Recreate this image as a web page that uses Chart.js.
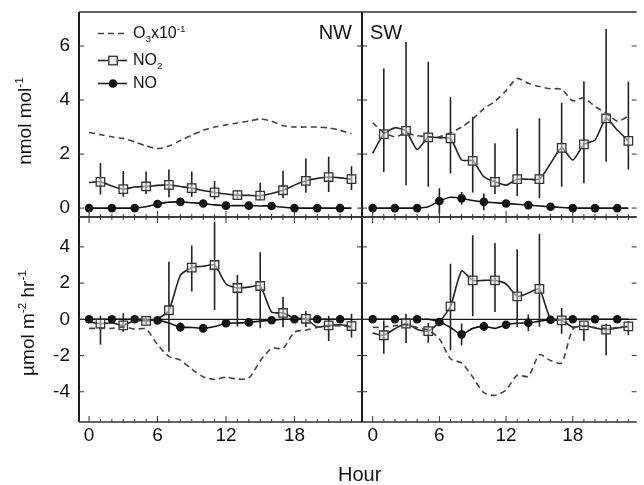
<!DOCTYPE html>
<html>
<head>
<meta charset="utf-8">
<script src="https://cdn.jsdelivr.net/npm/chart.js"></script>
<style>
body { margin: 0; background: #fff; }
#wrap { position: relative; width: 644px; height: 485px; overflow: hidden; font-family: "Liberation Sans", Arial, sans-serif; color: #111; }
#wrap canvas { position: absolute; left: 0; top: 0; }
.lbl { position: absolute; white-space: nowrap; line-height: 1; }
.rot { transform: translate(-50%, -50%) rotate(-90deg); }
sup, sub { font-size: 0.62em; line-height: 0; }
</style>
</head>
<body>
<div id="wrap">
  <canvas id="cTL" width="644" height="485"></canvas>
  <canvas id="cTR" width="644" height="485"></canvas>
  <canvas id="cBL" width="644" height="485"></canvas>
  <canvas id="cBR" width="644" height="485"></canvas>
  <div class="lbl rot" style="left:24px; top:121px; font-size:19px;">nmol mol<sup>-1</sup></div>
  <div class="lbl rot" style="left:27px; top:323px; font-size:19px;">&micro;mol m<sup>-2</sup> hr<sup>-1</sup></div>
  <div class="lbl" style="left:338px; top:464px; font-size:20px;">Hour</div>
  <div class="lbl" style="right:292px; top:22px; font-size:20px;">NW</div>
  <div class="lbl" style="left:370px; top:22px; font-size:20px;">SW</div>
  <div class="lbl" style="left:133px; top:25px; font-size:16px;">O<sub>3</sub>x10<sup>-1</sup></div>
  <div class="lbl" style="left:133px; top:52px; font-size:16px;">NO<sub>2</sub></div>
  <div class="lbl" style="left:133px; top:75px; font-size:16px;">NO</div>
</div>
<script>
// hours of the day
const hours = [0, 1, 2, 3, 4, 5, 6, 7, 8, 9, 10, 11, 12, 13, 14, 15, 16, 17, 18, 19, 20, 21, 22, 23];
const oddHours = [1, 3, 5, 7, 9, 11, 13, 15, 17, 19, 21, 23];
const evenHours = [0, 2, 4, 6, 8, 10, 12, 14, 16, 18, 20, 22];
const xTicks = [0, 6, 12, 18];
const concTicks = [0, 2, 4, 6];
const fluxTicks = [-4, -2, 0, 2, 4];

// NW concentrations (nmol mol-1), O3 scaled x10^-1
const o3ConcNW = [2.8, 2.72, 2.64, 2.58, 2.45, 2.3, 2.2, 2.3, 2.5, 2.7, 2.88, 3.0, 3.08, 3.15, 3.22, 3.3, 3.22, 3.05, 3.0, 3.0, 3.0, 2.97, 2.88, 2.75];
const no2ConcNW = [0.95, 0.97, 0.82, 0.7, 0.78, 0.8, 0.84, 0.86, 0.8, 0.74, 0.65, 0.58, 0.52, 0.48, 0.47, 0.46, 0.54, 0.66, 0.85, 1.01, 1.1, 1.15, 1.12, 1.07];
const no2ConcNWHi = [1.67, 1.37, 1.35, 1.43, 1.35, 1.0, 0.65, 0.94, 1.38, 1.84, 1.9, 1.55];
const no2ConcNWLo = [0.5, 0.42, 0.52, 0.4, 0.42, 0.32, 0.35, 0.3, 0.36, 0.57, 0.6, 0.67];
const noConcNW = [0, 0, 0, 0, 0, 0.05, 0.15, 0.22, 0.23, 0.2, 0.17, 0.12, 0.09, 0.09, 0.09, 0.08, 0.08, 0.03, 0, 0, 0, 0, 0, 0];
const noConcNWErr = [0, 0, 0, 0.1, 0.12, 0.08, 0, 0, 0, 0, 0, 0];

// SW concentrations
const o3ConcSW = [3.16, 2.8, 2.64, 2.77, 2.68, 2.64, 2.64, 2.79, 3.0, 3.3, 3.68, 3.95, 4.35, 4.8, 4.62, 4.5, 4.42, 4.4, 3.97, 4.08, 3.76, 3.52, 3.22, 3.4];
const no2ConcSW = [2.03, 2.74, 2.97, 2.86, 2.17, 2.62, 2.6, 2.58, 1.78, 1.75, 1.16, 0.97, 0.85, 1.07, 1.07, 1.07, 1.65, 2.23, 1.78, 2.36, 2.52, 3.32, 2.89, 2.49];
const no2ConcSWHi = [5.17, 6.15, 5.42, 4.1, 3.38, 2.4, 2.95, 3.33, 3.9, 4.7, 6.63, 4.68];
const no2ConcSWLo = [1.34, 0.85, 0.79, 1.28, 0.58, 0.52, 0.45, 0.36, 0.79, 0.92, 1.72, 1.43];
const noConcSW = [0, 0, 0, 0, 0, 0.05, 0.26, 0.4, 0.36, 0.28, 0.23, 0.2, 0.17, 0.14, 0.11, 0.08, 0.05, 0.02, 0, 0, 0, 0, 0, 0];
const noConcSWErr = [0, 0, 0, 0.47, 0.24, 0.31, 0, 0, 0, 0, 0, 0];

// NW fluxes (umol m-2 hr-1)
const o3FluxNW = [-0.5, -0.5, -0.5, -0.42, -0.54, -0.54, -1.4, -2.05, -2.25, -2.75, -3.17, -3.32, -3.2, -3.3, -3.25, -2.3, -1.6, -1.6, -0.7, -0.6, -0.45, -0.38, -0.36, -0.42];
const no2FluxNW = [-0.15, -0.24, -0.2, -0.33, -0.06, -0.09, 0.03, 0.5, 2.43, 2.85, 2.93, 3.0, 1.95, 1.73, 1.78, 1.84, 0.4, 0.35, 0.07, 0.03, -0.43, -0.33, -0.3, -0.37];
const no2FluxNWHi = [0.2, 0.33, 0.15, 3.18, 4.07, 5.4, 2.45, 3.7, 1.25, 0.46, 0.2, 0.31];
const no2FluxNWLo = [-1.4, -0.68, -0.3, -1.79, 1.53, 0.51, -0.41, -0.5, -0.44, -0.43, -1.2, -1.0];
const noFluxNW = [0, 0, 0, 0, 0, 0, -0.06, -0.2, -0.43, -0.45, -0.5, -0.4, -0.22, -0.2, -0.17, -0.1, -0.05, 0, 0, 0, 0, 0, 0, 0];
const noFluxNWErr = [0, 0, 0, 0, 0.25, 0.2, 0.1, 0, 0, 0, 0, 0];

// SW fluxes
const o3FluxSW = [-0.45, -0.42, -0.35, -0.3, -0.45, -0.6, -1.07, -2.18, -2.41, -3.19, -4.05, -4.2, -3.9, -3.09, -3.15, -1.95, -2.28, -2.4, -0.55, -0.38, -0.45, -0.5, -0.45, -0.4];
const no2FluxSW = [-0.76, -0.88, -0.52, -0.24, -0.55, -0.65, -0.15, 0.72, 2.67, 2.15, 2.15, 2.15, 1.95, 1.27, 1.45, 1.68, 0.0, -0.06, -0.43, -0.33, -0.48, -0.57, -0.48, -0.39];
const no2FluxSWHi = [-0.06, 0.31, -0.2, 3.07, 4.64, 4.22, 3.87, 4.71, 0.62, -0.15, -0.24, -0.1];
const no2FluxSWLo = [-1.9, -1.31, -1.3, -1.71, 0.17, 0.4, -0.42, -0.41, -0.8, -1.2, -1.99, -0.88];
const noFluxSW = [0, 0, 0, 0, 0, 0, -0.15, -0.45, -0.83, -0.5, -0.39, -0.5, -0.3, -0.22, -0.19, -0.1, -0.02, 0, 0, 0, 0, 0, 0, 0];
const noFluxSWErr = [0, 0, 0, 0.12, 0.6, 0.25, 0.2, 0.45, 0, 0, 0, 0];

const FONT = '"Liberation Sans", Arial, sans-serif';
const INK = '#1a1a1a';

// frame, inward ticks, zero line and error bars
const panelPlugin = {
  id: 'panel',
  beforeDatasetsDraw(chart, args, o) {
    const { ctx, chartArea: a, scales: { x, y } } = chart;
    ctx.save();
    ctx.beginPath();
    ctx.rect(a.left, a.top, a.right - a.left, a.bottom - a.top);
    ctx.clip();
    if (o.zeroLine) {
      ctx.strokeStyle = INK;
      ctx.lineWidth = 1.3;
      ctx.beginPath();
      ctx.moveTo(a.left, y.getPixelForValue(0));
      ctx.lineTo(a.right, y.getPixelForValue(0));
      ctx.stroke();
    }
    ctx.strokeStyle = '#222';
    ctx.lineWidth = 1.6;
    ctx.beginPath();
    o.bars.forEach(b => {
      b.hours.forEach((h, i) => {
        if (b.hi[i] === b.lo[i]) return;
        const px = x.getPixelForValue(h);
        ctx.moveTo(px, y.getPixelForValue(b.hi[i]));
        ctx.lineTo(px, y.getPixelForValue(b.lo[i]));
      });
    });
    ctx.stroke();
    ctx.restore();
  },
  afterDraw(chart, args, o) {
    const { ctx, chartArea: a, scales: { x, y } } = chart;
    ctx.save();
    ctx.strokeStyle = INK;
    ctx.lineWidth = 2;
    ctx.beginPath();
    ctx.moveTo(a.left, a.top); ctx.lineTo(a.left, a.bottom);
    if (o.rightBorder) { ctx.moveTo(a.right, a.top); ctx.lineTo(a.right, a.bottom); }
    ctx.stroke();
    ctx.lineWidth = 1.5;
    ctx.strokeStyle = '#333';
    ctx.beginPath();
    ctx.moveTo(a.left, a.top); ctx.lineTo(a.right, a.top);
    ctx.moveTo(a.left, a.bottom); ctx.lineTo(a.right, a.bottom);
    ctx.stroke();
    ctx.lineWidth = 1;
    ctx.beginPath();
    hours.forEach(h => {
      const px = x.getPixelForValue(h);
      const len = h % 6 === 0 ? 6 : 3;
      ctx.moveTo(px, a.bottom); ctx.lineTo(px, a.bottom - len);
      if (o.tickTop) { ctx.moveTo(px, a.top); ctx.lineTo(px, a.top + len); }
    });
    o.yTicks.forEach(v => {
      const py = y.getPixelForValue(v);
      ctx.moveTo(a.left, py); ctx.lineTo(a.left + 5, py);
      ctx.moveTo(a.right, py); ctx.lineTo(a.right - 5, py);
    });
    ctx.stroke();
    ctx.restore();
  }
};

// legend symbols (texts are HTML)
const legendPlugin = {
  id: 'legendMarks',
  afterDraw(chart) {
    const ctx = chart.ctx;
    ctx.save();
    ctx.lineWidth = 1.6;
    ctx.strokeStyle = '#444';
    ctx.setLineDash([6, 4]);
    ctx.beginPath(); ctx.moveTo(98, 33.5); ctx.lineTo(127, 33.5); ctx.stroke();
    ctx.setLineDash([]);
    ctx.strokeStyle = '#222';
    ctx.beginPath(); ctx.moveTo(98, 60.5); ctx.lineTo(127, 60.5); ctx.stroke();
    ctx.beginPath(); ctx.moveTo(98, 83.5); ctx.lineTo(127, 83.5); ctx.stroke();
    ctx.fillStyle = '#eee';
    ctx.strokeStyle = '#333';
    ctx.lineWidth = 1.3;
    ctx.fillRect(108.8, 56.3, 8.5, 8.5);
    ctx.strokeRect(108.8, 56.3, 8.5, 8.5);
    ctx.fillStyle = '#111';
    ctx.beginPath(); ctx.arc(113, 83.5, 4.3, 0, Math.PI * 2); ctx.fill();
    ctx.restore();
  }
};

function pts(arr) {
  return arr.map((v, i) => ({ x: hours[i], y: v }));
}

function errBounds(vals, errs) {
  return {
    hours: evenHours,
    hi: evenHours.map((h, i) => vals[h] + errs[i]),
    lo: evenHours.map((h, i) => vals[h] - errs[i])
  };
}

function makePanel(id, p) {
  const plugins = [panelPlugin];
  if (p.legend) plugins.push(legendPlugin);
  return new Chart(document.getElementById(id), {
    type: 'line',
    data: {
      datasets: [
        { data: pts(p.o3), borderColor: '#444', borderDash: [6, 4], borderWidth: 1.6, pointRadius: 0, tension: 0.25 },
        {
          data: pts(p.no2), borderColor: '#222', borderWidth: 1.6, tension: 0.2,
          pointStyle: 'rect', pointRadius: c => c.dataIndex % 2 === 1 ? 6 : 0,
          pointBackgroundColor: 'rgba(235,235,235,0.55)', pointBorderColor: '#333', pointBorderWidth: 1.3
        },
        {
          data: pts(p.no), borderColor: '#111', borderWidth: 1.6, tension: 0.2,
          pointStyle: 'circle', pointRadius: c => c.dataIndex % 2 === 0 ? 4.3 : 0,
          pointBackgroundColor: '#111', pointBorderColor: '#111', pointBorderWidth: 0
        }
      ]
    },
    options: {
      responsive: false,
      animation: false,
      events: [],
      layout: { padding: p.padding },
      plugins: {
        legend: { display: false },
        tooltip: { enabled: false },
        panel: { zeroLine: p.zeroLine, tickTop: p.tickTop, rightBorder: p.rightBorder, yTicks: p.yTicks, bars: p.bars }
      },
      scales: {
        x: {
          type: 'linear', min: p.xMin, max: p.xMax,
          display: p.showX,
          grid: { display: false, drawTicks: false },
          border: { display: false },
          ticks: { font: { size: 19, family: FONT }, color: '#111', padding: 2, maxRotation: 0, autoSkip: false },
          afterBuildTicks: s => { s.ticks = xTicks.map(v => ({ value: v })); },
          afterFit: s => {
            s.height = p.showX ? 63 : 0;
            s.paddingLeft = 0; s.paddingRight = 0; s.paddingTop = 0; s.paddingBottom = 0;
          }
        },
        y: {
          type: 'linear', min: p.yMin, max: p.yMax,
          display: p.showY,
          grid: { display: false, drawTicks: false },
          border: { display: false },
          ticks: { font: { size: 19, family: FONT }, color: '#111', padding: 9 },
          afterBuildTicks: s => { s.ticks = p.yTicks.map(v => ({ value: v })); },
          afterFit: s => {
            s.width = p.showY ? 79 : 0;
            s.paddingLeft = 0; s.paddingRight = 0; s.paddingTop = 0; s.paddingBottom = 0;
          }
        }
      }
    },
    plugins: plugins
  });
}

makePanel('cTL', {
  o3: o3ConcNW, no2: no2ConcNW, no: noConcNW,
  bars: [{ hours: oddHours, hi: no2ConcNWHi, lo: no2ConcNWLo }, errBounds(noConcNW, noConcNWErr)],
  xMin: -0.88, xMax: 23.92, yMin: -0.33, yMax: 7.26, yTicks: concTicks,
  showX: false, showY: true, rightBorder: true, tickTop: false, zeroLine: false, legend: true,
  padding: { left: 0, right: 282, top: 12, bottom: 268 }
});
makePanel('cTR', {
  o3: o3ConcSW, no2: no2ConcSW, no: noConcSW,
  bars: [{ hours: oddHours, hi: no2ConcSWHi, lo: no2ConcSWLo }, errBounds(noConcSW, noConcSWErr)],
  xMin: -0.96, xMax: 23.75, yMin: -0.33, yMax: 7.26, yTicks: concTicks,
  showX: false, showY: false, rightBorder: false, tickTop: false, zeroLine: false,
  padding: { left: 362, right: 0, top: 12, bottom: 268 }
});
makePanel('cBL', {
  o3: o3FluxNW, no2: no2FluxNW, no: noFluxNW,
  bars: [{ hours: oddHours, hi: no2FluxNWHi, lo: no2FluxNWLo }, errBounds(noFluxNW, noFluxNWErr)],
  xMin: -0.88, xMax: 23.92, yMin: -5.67, yMax: 5.65, yTicks: fluxTicks,
  showX: true, showY: true, rightBorder: true, tickTop: true, zeroLine: true,
  padding: { left: 0, right: 282, top: 217, bottom: 0 }
});
makePanel('cBR', {
  o3: o3FluxSW, no2: no2FluxSW, no: noFluxSW,
  bars: [{ hours: oddHours, hi: no2FluxSWHi, lo: no2FluxSWLo }, errBounds(noFluxSW, noFluxSWErr)],
  xMin: -0.96, xMax: 23.75, yMin: -5.67, yMax: 5.65, yTicks: fluxTicks,
  showX: true, showY: false, rightBorder: false, tickTop: true, zeroLine: true,
  padding: { left: 362, right: 0, top: 217, bottom: 0 }
});
</script>
</body>
</html>
